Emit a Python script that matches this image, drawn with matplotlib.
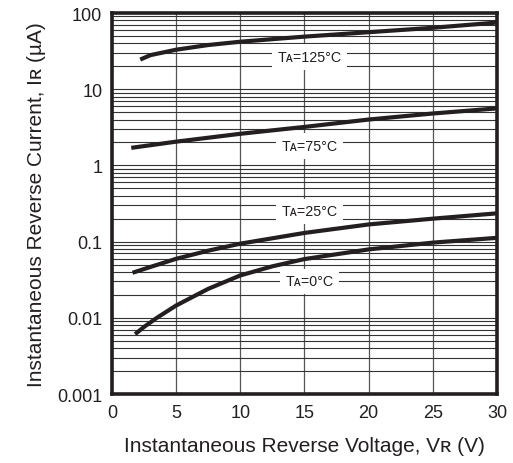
import numpy as np
import matplotlib
matplotlib.use("Agg")
import matplotlib.pyplot as plt
from matplotlib.ticker import FixedLocator, FixedFormatter, LogLocator, NullFormatter

plt.rcParams['font.family'] = ['Liberation Sans', 'DejaVu Sans']

# curve data (V in volts, I in uA)
v_125 = [2.2, 3.0, 5.0, 7.5, 10, 15, 20, 25, 30]
i_125 = [24.5, 28, 33, 38, 42, 49, 56, 64, 75]
v_75 = [1.5, 5.0, 10, 15, 20, 25, 30]
i_75 = [1.7, 2.05, 2.6, 3.2, 4.0, 4.8, 5.6]
v_25 = [1.6, 3.0, 5.0, 7.5, 10, 15, 20, 25, 30]
i_25 = [0.039, 0.0465, 0.0595, 0.076, 0.094, 0.130, 0.168, 0.20, 0.235]
v_0 = [1.8, 2.5, 3.5, 5.0, 7.5, 10, 12.5, 15, 20, 25, 30]
i_0 = [0.0061, 0.0076, 0.0100, 0.0145, 0.024, 0.036, 0.0474, 0.059, 0.079, 0.097, 0.112]

curve_labels = ['T\u1d00=125°C', 'T\u1d00=75°C', 'T\u1d00=25°C', 'T\u1d00=0°C']
label_x = [15.4, 15.4, 15.4, 15.4]
label_y = [26.5, 1.8, 0.25, 0.030]

x_ticks = [0, 5, 10, 15, 20, 25, 30]
y_ticks = [0.001, 0.01, 0.1, 1, 10, 100]
y_tick_labels = ['0.001', '0.01', '0.1', '1', '10', '100']

ink = '#231f20'

fig = plt.figure(figsize=(5.13, 4.64), dpi=100)
ax = fig.add_axes([0.2183, 0.1487, 0.7505, 0.8211])

ax.set_yscale('log')
ax.set_xlim(0, 30)
ax.set_ylim(0.001, 100)

ax.xaxis.set_major_locator(FixedLocator(x_ticks))
ax.yaxis.set_major_locator(FixedLocator(y_ticks))
ax.yaxis.set_major_formatter(FixedFormatter(y_tick_labels))
ax.yaxis.set_minor_locator(LogLocator(base=10, subs=np.arange(2, 10)))
ax.yaxis.set_minor_formatter(NullFormatter())

ax.grid(True, which='major', axis='x', color='#555555', linewidth=0.9)
ax.grid(True, which='both', axis='y', color='#333333', linewidth=0.8)
ax.tick_params(which='both', length=0, labelsize=13, colors='#231f20', pad=7)

for sp in ax.spines.values():
    sp.set_linewidth(2.6)
    sp.set_color(ink)

for v, i in [(v_125, i_125), (v_75, i_75), (v_25, i_25), (v_0, i_0)]:
    ax.plot(v, i, color=ink, linewidth=3.0, solid_capstyle='butt',
            solid_joinstyle='round', zorder=3)

for txt, lx, ly in zip(curve_labels, label_x, label_y):
    ax.text(lx, ly, txt, ha='center', va='center', fontsize=10.3, color=ink,
            bbox=dict(facecolor='white', edgecolor='none', pad=4), zorder=4)

ax.set_xlabel('Instantaneous Reverse Voltage, V\u0280 (V)', fontsize=15, color=ink, labelpad=11)
ax.set_ylabel('Instantaneous Reverse Current, I\u0280 (\u00b5A)', fontsize=15, color=ink, labelpad=8)

fig.savefig('out.png', dpi=100)
